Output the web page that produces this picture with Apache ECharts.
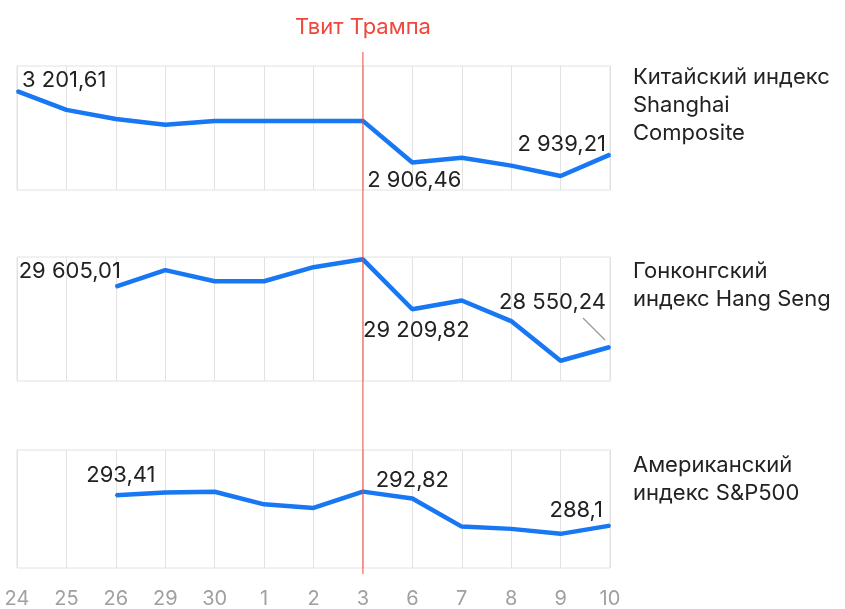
<!DOCTYPE html>
<html>
<head>
<meta charset="utf-8">
<script src="https://cdn.jsdelivr.net/npm/echarts@6/dist/echarts.min.js"></script>
<style>
  html, body { margin: 0; padding: 0; background: #fff; }
  #chart { width: 845px; height: 609px; }
</style>
</head>
<body>
<div id="chart"></div>
<script>
// торговые дни, апрель–май
var dates = ['24', '25', '26', '29', '30', '1', '2', '3', '6', '7', '8', '9', '10'];
var tweetDay = '3';

var shanghai = [3201.61, 3123.83, 3086.40, 3062.50, 3078.34, 3078.34, 3078.34, 3078.34,
  2906.46, 2926.39, 2893.76, 2850.95, 2939.21];
var hangSeng = [null, null, 29605.01, 29892.81, 29699.11, 29699.11, 29944.23, 30081.55,
  29209.82, 29363.02, 29003.20, 28311.07, 28550.24];
var sp500 = [null, null, 293.41, 293.87, 294.02, 291.81, 291.18, 294.03,
  292.82, 287.93, 287.53, 286.66, 288.10];

var names = [
  'Китайский индекс\nShanghai\nComposite',
  'Гонконгский\nиндекс Hang Seng',
  'Американский\nиндекс S&P500'
];

(function () {
  var BLUE = '#1877f2';
  var RED = '#f0463c';
  var GRID = '#e2e2e2';
  var FONT = 'Inter, Roboto, "Noto Sans", sans-serif';

  function fmt(v) {
    var s = String(v).split('.');
    var head = s[0].replace(/\B(?=(\d{3})+(?!\d))/g, ' ');
    return s[1] ? head + ',' + s[1] : head;
  }

  /** подписи значений: индекс точки -> как ставить */
  var labelCfg = [
    {
      0: { position: 'right', distance: 4, offset: [0, -11] },
      8: { position: 'bottom', distance: 6, offset: [2, 0] },
      12: { position: 'left', distance: 3, offset: [0, -10] }
    },
    {
      2: { position: 'left', distance: 5, offset: [11, -15] },
      8: { position: 'bottom', distance: 9, offset: [4, 0] },
      12: { position: 'left', distance: 3, offset: [0, -45] }
    },
    {
      2: { position: 'top', distance: 8, offset: [5, 0] },
      8: { position: 'top', distance: 6, offset: [0, 0] },
      12: { position: 'left', distance: 6, offset: [0, -15] }
    }
  ];

  var ranges = [[2793, 3305], [27957, 30122], [280.7, 301.3]];
  var tops = [66, 257, 450];
  var nameTops = [63, 257, 451];
  var all = [shanghai, hangSeng, sp500];

  function buildData(values, cfg) {
    return values.map(function (v, i) {
      var c = cfg[i];
      if (!c || v == null) return v;
      return {
        value: v,
        label: {
          show: true,
          position: c.position,
          distance: c.distance,
          offset: c.offset,
          formatter: function (p) { return fmt(p.value); }
        }
      };
    });
  }

  var grids = [], xAxes = [], yAxes = [], series = [], titles = [];
  for (var k = 0; k < 3; k++) {
    grids.push({
      left: 17, right: 235, top: tops[k], height: 124,
      show: true, borderColor: GRID, borderWidth: 1, backgroundColor: '#fff'
    });
    xAxes.push({
      type: 'category', gridIndex: k, data: dates, boundaryGap: false,
      axisLine: { show: false }, axisTick: { show: false },
      splitLine: { show: true, lineStyle: { color: GRID, width: 1 } },
      axisLabel: {
        show: k === 2, margin: 21, color: '#a0a0a0', fontSize: 20,
        fontFamily: FONT, interval: 0
      }
    });
    yAxes.push({
      type: 'value', gridIndex: k, min: ranges[k][0], max: ranges[k][1],
      show: false, splitLine: { show: false }
    });
    series.push({
      type: 'line', xAxisIndex: k, yAxisIndex: k,
      data: buildData(all[k], labelCfg[k]),
      symbol: 'circle', symbolSize: 2, showSymbol: true,
      lineStyle: { color: BLUE, width: 4.5 },
      itemStyle: { color: BLUE },
      label: { show: false, color: '#222', fontSize: 22, fontFamily: FONT },
      emphasis: { disabled: true },
      animation: false,
      z: 3
    });
    titles.push({
      text: names[k], left: 633, top: nameTops[k], padding: 0,
      textStyle: {
        fontSize: 22, lineHeight: 28, fontWeight: 'normal',
        color: '#222', fontFamily: FONT
      }
    });
  }

  var chart = echarts.init(document.getElementById('chart'), null, { renderer: 'canvas' });
  chart.setOption({
    backgroundColor: '#ffffff',
    animation: false,
    title: titles,
    grid: grids,
    xAxis: xAxes,
    yAxis: yAxes,
    series: series
  });

  // красная линия «Твит Трампа» через все три панели
  var x = chart.convertToPixel({ xAxisIndex: 0 }, tweetDay);
  var yTop = tops[0] - 14;
  var yBottom = tops[2] + 124;
  // выноска к последней точке Hang Seng
  var last = hangSeng.length - 1;
  var pt = chart.convertToPixel({ seriesIndex: 1 }, [last, hangSeng[last]]);
  chart.setOption({
    graphic: [
      {
        type: 'line', z: 10,
        shape: { x1: x, y1: yTop, x2: x, y2: yBottom },
        style: { stroke: RED, lineWidth: 1 }
      },
      {
        type: 'text', z: 10, x: x, y: 27,
        style: {
          text: 'Твит Трампа', fill: RED, fontSize: 22, fontFamily: FONT,
          align: 'center', verticalAlign: 'middle'
        }
      },
      {
        type: 'line', z: 10,
        shape: { x1: pt[0] - 27, y1: pt[1] - 29, x2: pt[0] - 5, y2: pt[1] - 7 },
        style: { stroke: '#9a9a9a', lineWidth: 1.2 }
      }
    ]
  });
})();
</script>
</body>
</html>
